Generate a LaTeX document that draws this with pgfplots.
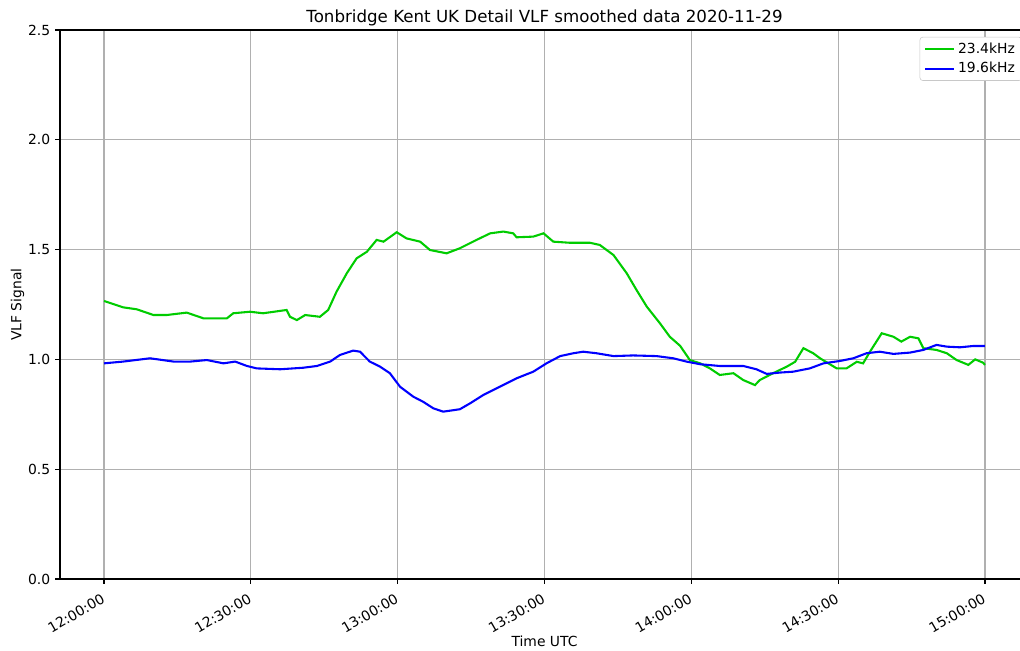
\documentclass[border=0pt]{standalone}
\usepackage{fontspec}
\setmainfont{DejaVu Sans}
\usepackage{pgfplots}
\pgfplotsset{compat=1.18}

\definecolor{vlfgreen}{RGB}{0,204,0}
\definecolor{vlfblue}{RGB}{0,0,255}
\definecolor{gridgray}{RGB}{176,176,176}

\begin{document}
\begin{tikzpicture}
\begin{axis}[
  scale only axis,
  width=697.7pt, height=395.3pt,
  xmin=-9, xmax=189,
  ymin=0, ymax=2.5,
  xtick={0,30,60,90,120,150,180},
  xticklabels={12:00:00,12:30:00,13:00:00,13:30:00,14:00:00,14:30:00,15:00:00},
  ytick={0,0.5,1,1.5,2,2.5},
  yticklabel style={/pgf/number format/.cd, fixed, fixed zerofill, precision=1},
  /pgf/number format/assume math mode=true,
  xticklabel style={rotate=30, anchor=north east, xshift=-2pt, yshift=-1pt},
  tick label style={font=\fontsize{10}{12}\selectfont},
  tick align=outside,
  major tick length=3.5pt,
  tick style={black, line width=0.8pt},
  xtick pos=bottom, ytick pos=left,
  axis line style={line width=0.8pt},
  grid=major,
  grid style={gridgray, line width=0.8pt},
  title={Tonbridge Kent UK Detail VLF smoothed data 2020-11-29},
  title style={font=\fontsize{12}{14}\selectfont, yshift=-7pt},
  xlabel={Time UTC},
  ylabel={VLF Signal},
  label style={font=\fontsize{10}{12}\selectfont},
  xlabel style={yshift=6pt},
  ylabel style={yshift=-4pt},
  legend style={at={(1,1)}, anchor=north east, xshift=-5pt, yshift=-5pt,
    draw=gridgray!70, rounded corners=2pt, font=\fontsize{10}{12}\selectfont,
    cells={anchor=west}, row sep=1pt},
  legend image code/.code={\draw[#1, line width=1.5pt] (0pt,0pt) -- (21pt,0pt);},
]
\addplot[vlfgreen, line width=1.5pt] coordinates {
(0,1.266) (3.9,1.237) (6.7,1.228) (10.1,1.202) (12.8,1.202) (16.9,1.213)
(20.3,1.187) (25.1,1.187) (26.4,1.21) (29.8,1.217) (32.5,1.21) (37.3,1.225)
(38.0,1.194) (39.4,1.179) (41.1,1.202) (44.1,1.194) (45.8,1.225) (47.5,1.308)
(49.6,1.392) (51.6,1.460) (53.7,1.49) (55.7,1.544) (57.1,1.536) (59.8,1.579)
(61.8,1.551) (64.6,1.536) (66.6,1.498) (70.0,1.483) (72.7,1.506) (76.1,1.544)
(78.9,1.574) (81.6,1.582) (83.6,1.574) (84.3,1.556) (87.7,1.559) (89.8,1.574)
(91.8,1.536) (95.2,1.531) (99.3,1.531) (101.3,1.521) (104.1,1.475) (106.8,1.392)
(108.8,1.316) (110.9,1.240) (113.6,1.164) (115.6,1.103) (117.7,1.062) (119.7,0.997)
(121.8,0.982) (123.8,0.959) (125.8,0.929) (128.6,0.937) (130.6,0.906) (133.0,0.883)
(134.0,0.906) (136.7,0.937) (139.5,0.967) (141.2,0.989) (142.9,1.051) (144.9,1.028)
(146.3,1.005) (148.0,0.982) (149.7,0.959) (151.7,0.959) (153.8,0.989) (155.1,0.982)
(156.5,1.035) (158.9,1.119) (161.3,1.103) (162.9,1.081) (164.7,1.103) (166.4,1.096)
(167.4,1.051) (170.1,1.043) (172.2,1.028) (174.2,0.997) (176.6,0.975) (178.0,1.0)
(179.6,0.985) (180,0.975)
};
\addlegendentry{23.4kHz}
\addplot[vlfblue, line width=1.5pt] coordinates {
(0,0.982) (3.9,0.990) (9.4,1.005) (14.2,0.990) (17.6,0.990) (21.0,0.997)
(24.4,0.982) (26.8,0.990) (29.2,0.970) (31.2,0.959) (36.0,0.955) (40.7,0.962)
(43.5,0.970) (46.2,0.990) (48.2,1.020) (50.9,1.040) (52.3,1.035) (54.3,0.990)
(56.4,0.967) (58.4,0.937) (60.5,0.875) (63.2,0.830) (65.2,0.807) (67.3,0.777)
(69.3,0.762) (72.7,0.773) (74.8,0.800) (77.5,0.838) (80.9,0.876) (84.3,0.914)
(87.7,0.944) (90.4,0.982) (93.2,1.015) (95.9,1.028) (97.9,1.035) (100.6,1.028)
(104.1,1.015) (108.1,1.018) (112.9,1.015) (116.3,1.005) (119.0,0.990) (121.8,0.978)
(125.8,0.970) (130.6,0.970) (133.3,0.955) (135.4,0.934) (138.1,0.940) (140.8,0.944)
(144.2,0.959) (147.0,0.982) (150.4,0.993) (153.1,1.005) (155.8,1.028) (158.5,1.035)
(161.3,1.025) (164.7,1.031) (167.4,1.043) (170.1,1.066) (172.2,1.058) (174.9,1.055)
(177.6,1.061) (180,1.061)
};
\addlegendentry{19.6kHz}
\end{axis}
\pgfresetboundingbox
\path[use as bounding box] (current axis.south west) ++(-43.2pt,-51.84pt) rectangle ++(734.4pt,468.72pt);
\end{tikzpicture}
\end{document}
